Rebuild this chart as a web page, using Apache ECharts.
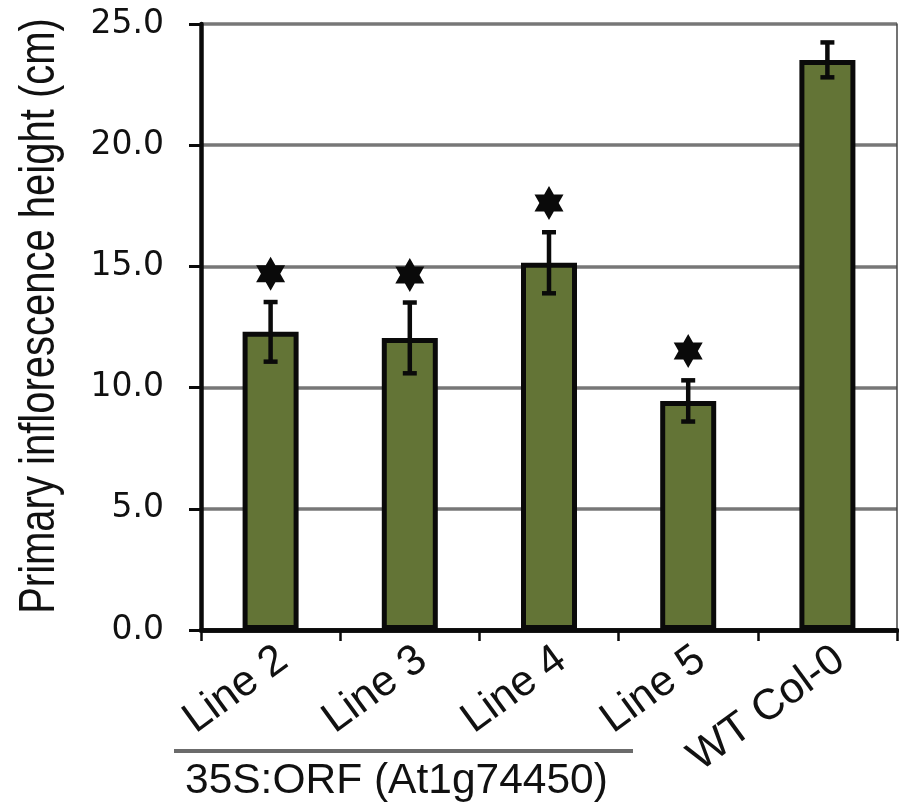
<!DOCTYPE html>
<html>
<head>
<meta charset="utf-8">
<script src="https://cdn.jsdelivr.net/npm/echarts@6/dist/echarts.min.js"></script>
<style>
html,body{margin:0;padding:0;background:#fff;}
#chart{width:899px;height:808px;}
</style>
</head>
<body>
<div id="chart"></div>
<script>
const categories = ['Line 2', 'Line 3', 'Line 4', 'Line 5', 'WT Col-0'];
const heights = [12.3, 12.05, 15.15, 9.45, 23.52];
const errors = [1.23, 1.46, 1.26, 0.85, 0.72];
const stars = [14.7, 14.65, 17.62, 11.51, null];
const yTicks = [0, 5, 10, 15, 20, 25];
const yTitle = 'Primary inflorescence height (cm)';
const groupLabel = '35S:ORF (At1g74450)';

const starPath = 'path://M100 0L128.87 50L186.6 50L157.7 100L186.6 150L128.87 150L100 200L71.13 150L13.4 150L42.3 100L13.4 50L71.13 50Z';

const chart = echarts.init(document.getElementById('chart'));
const errData = categories.map((c, i) => [i, heights[i] - errors[i], heights[i] + errors[i]]);
const starData = stars.map(v => (v == null ? '-' : v));

chart.setOption({
  animation: false,
  backgroundColor: '#ffffff',
  grid: { left: 201, right: 2, top: 24, bottom: 178, containLabel: false },
  xAxis: [{
    type: 'category',
    data: categories,
    position: 'bottom',
    axisLine: { lineStyle: { color: '#0a0a0a', width: 4.5 } },
    axisTick: { show: true, alignWithLabel: false, length: 11, lineStyle: { color: '#0a0a0a', width: 2.5 } },
    axisLabel: {
      rotate: 36, interval: 0, margin: 8, verticalAlign: 'top',
      fontFamily: 'Liberation Sans', fontSize: 43, color: '#111111'
    },
    splitLine: { show: false }
  }, {
    type: 'category',
    data: categories,
    position: 'top',
    axisLine: { lineStyle: { color: '#0a0a0a', width: 4.5 } },
    axisTick: { show: false },
    axisLabel: { show: false },
    splitLine: { show: false }
  }],
  yAxis: [{
    type: 'value',
    min: yTicks[0], max: yTicks[yTicks.length - 1], interval: 5,
    axisLine: { show: true, lineStyle: { color: '#0a0a0a', width: 4.5 } },
    axisTick: { show: true, length: 12, lineStyle: { color: '#0a0a0a', width: 3 } },
    axisLabel: {
      margin: 37, fontFamily: 'DejaVu Sans', fontSize: 33, color: '#111111',
      formatter: v => v.toFixed(1)
    },
    splitLine: { show: true, lineStyle: { color: '#777777', width: 3.5 } }
  }, {
    type: 'value',
    position: 'right',
    min: yTicks[0], max: yTicks[yTicks.length - 1], interval: 5,
    axisLine: { show: true, lineStyle: { color: '#444444', width: 1.5 } },
    axisTick: { show: false },
    axisLabel: { show: false },
    splitLine: { show: false }
  }],
  series: [{
    type: 'bar',
    data: heights,
    barWidth: 56,
    itemStyle: { color: '#637436', borderColor: '#0a0a0a', borderWidth: 5 },
    z: 2
  }, {
    type: 'custom',
    data: errData,
    encode: { x: 0, y: [1, 2] },
    z: 3,
    renderItem: function (params, api) {
      const x = api.value(0);
      const lo = api.coord([x, api.value(1)]);
      const hi = api.coord([x, api.value(2)]);
      const hw = 7;
      const st = { stroke: '#0a0a0a', lineWidth: 4.5 };
      return {
        type: 'group',
        children: [
          { type: 'line', shape: { x1: lo[0], y1: lo[1], x2: hi[0], y2: hi[1] }, style: st },
          { type: 'line', shape: { x1: hi[0] - hw, y1: hi[1], x2: hi[0] + hw, y2: hi[1] }, style: st },
          { type: 'line', shape: { x1: lo[0] - hw, y1: lo[1], x2: lo[0] + hw, y2: lo[1] }, style: st }
        ]
      };
    }
  }, {
    type: 'scatter',
    data: starData,
    symbol: starPath,
    symbolSize: [29, 34],
    itemStyle: { color: '#0a0a0a', opacity: 1 },
    z: 4
  }],
  graphic: [{
    type: 'text',
    x: 40, y: 316,
    rotation: Math.PI / 2,
    scaleY: 1.25,
    style: {
      text: yTitle, fontFamily: 'Liberation Sans', fontSize: 40, fill: '#111111',
      align: 'center', verticalAlign: 'middle'
    }
  }, {
    type: 'line',
    shape: { x1: 174, y1: 751, x2: 633, y2: 751 },
    style: { stroke: '#6b6b6b', lineWidth: 4 }
  }, {
    type: 'text',
    x: 185, y: 781,
    style: {
      text: groupLabel, fontFamily: 'Liberation Sans', fontSize: 42.5, fill: '#111111',
      align: 'left', verticalAlign: 'middle'
    }
  }]
});
</script>
</body>
</html>
